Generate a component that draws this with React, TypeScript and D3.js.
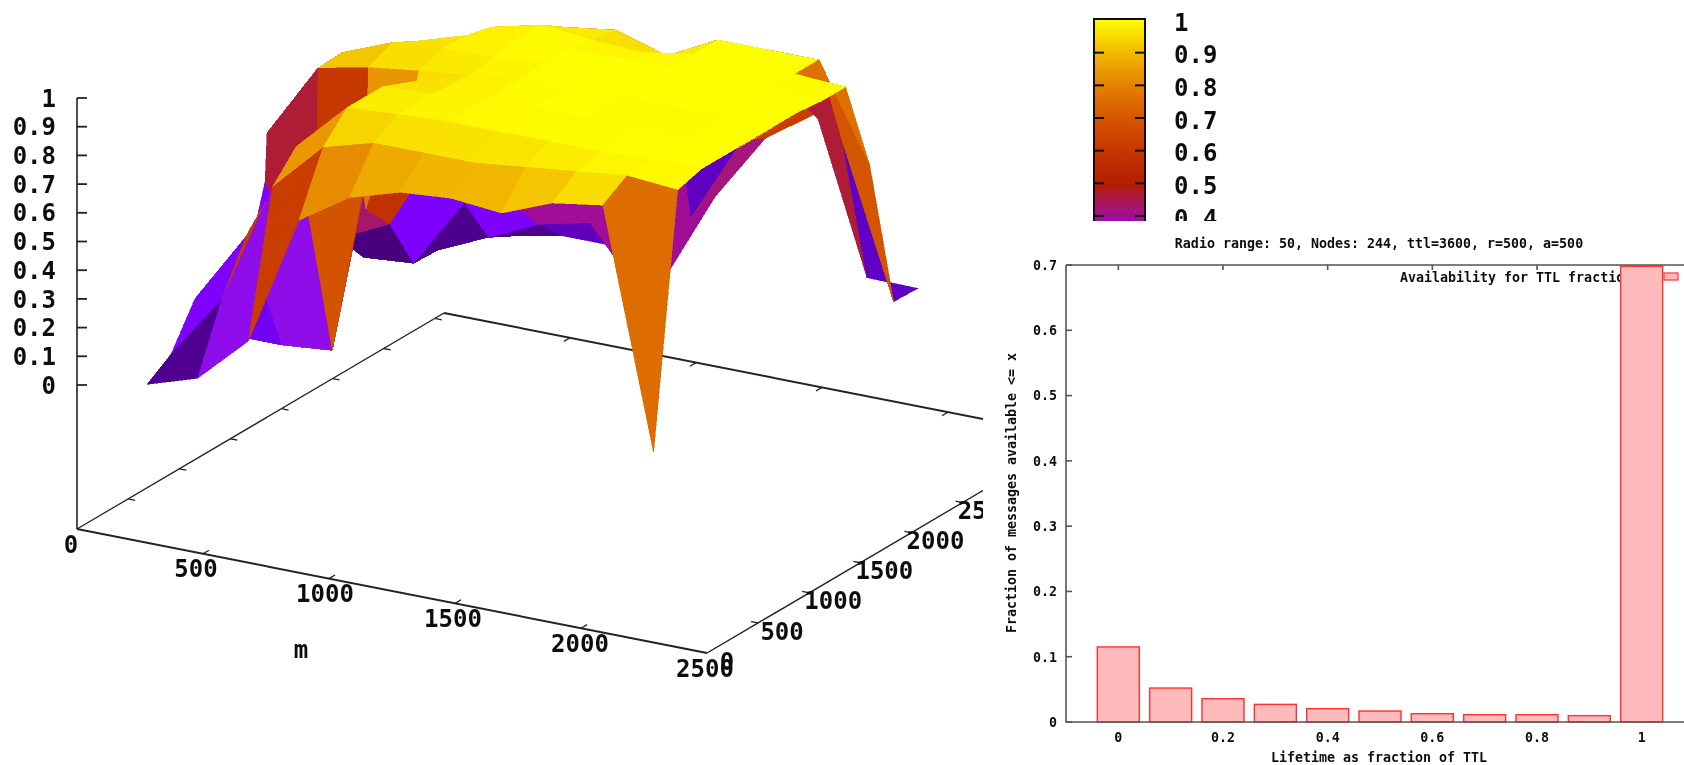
import React from 'react';
import * as d3 from 'd3';

// ---------- 3D surface data ----------
const gridX = [205, 406, 607, 808, 1009, 1210, 1411, 1612, 1813, 2014, 2215];
const gridY = [180, 415, 650, 1001, 1334, 1354, 1589, 1824, 2058, 2293, 2528, 2763];
// z[j][i]
const zRow0 = [0, 0.056, 0.22, 0.676, 0.79, 0.843, 0.857, 0.84, 0.91, 0.937, 0.11];
const zRow1 = [0.056, 0.28, 0.707, 0.88, 0.93, 0.93, 0.93, 0.95, 0.97, 0.99, 0.975];
const zRow2 = [0.2, 0.45, 0.8, 0.97, 0.98, 0.99, 0.99, 0.99, 0.99, 1, 1];
const zRow3 = [0, 0, 0.016, 0.97, 0.98, 0.99, 1, 1, 1, 1, 1];
const zRow4 = [0.463, 0.04, 0.54, 0.92, 0.97, 0.99, 1, 1, 0.98, 1, 1];
const zRow5 = [0.63, 0.89, 0.927, 0.95, 0.97, 0.99, 1, 1, 1, 1, 1];
const zRow6 = [0.1, 0.895, 0.965, 0.98, 0.98, 1, 1, 1, 1, 1, 1];
const zRow7 = [0.25, 0.3, 0.92, 0.975, 1, 1, 1, 1, 1, 1, 0.99];
const zRow8 = [0.115, 0.2, 0.5, 0.955, 0.997, 0.98, 0.97, 1, 1, 1, 0.99];
const zRow9 = [0, 0.014, 0.26, 0.28, 0.94, 0.965, 0.91, 1, 1, 1, 0.67];
const zRow10 = [0, 0.01, 0.09, 0.17, 0.21, 0, 0.3, 0.6, 0.8, 0.66, 0.143];
const zRow11 = [0, 0, 0.045, 0.08, 0.08, 0, 0.32, 0.56, 0.68, 0.143, 0.14];
const zGrid = [zRow0, zRow1, zRow2, zRow3, zRow4, zRow5, zRow6, zRow7, zRow8, zRow9, zRow10, zRow11];

// cells whose shade differs from the mean of their corners: [i, j, shade]
const cellShades: [number, number, number][] = [
  [1, 1, 0.61], [0, 2, 0.2], [0, 3, 0.25], [0, 4, 0.466],
  [0, 7, 0.43], [1, 7, 0.58], [2, 9, 0.25], [4, 9, 0.4],
  [6, 9, 0.14], [6, 10, 0.42], [5, 10, 0.4], [5, 9, 0.4], [7, 10, 0.62],
  [8, 9, 0.466], [9, 8, 0.76], [9, 9, 0.69], [8, 10, 0.466], [9, 10, 0.14],
];

const xTicks3d = [0, 500, 1000, 1500, 2000, 2500];
const xLabelNudge = [-6, -7, -4, -2, -1, -2];
const yTicks3d = [0, 500, 1000, 1500, 2000, 2500, 3000, 3500];
const yTickLabels3d = [0, 500, 1000, 1500, 2000, 2500];
const zTicks = [0, 0.1, 0.2, 0.3, 0.4, 0.5, 0.6, 0.7, 0.8, 0.9, 1];
const cbTicks = [1, 0.9, 0.8, 0.7, 0.6, 0.5, 0.4];

// ---------- bar chart data ----------
const barX = [0, 0.1, 0.2, 0.3, 0.4, 0.5, 0.6, 0.7, 0.8, 0.9, 1];
const barY = [0.115, 0.052, 0.0357, 0.027, 0.0204, 0.0168, 0.0127, 0.0112, 0.0112, 0.0097, 0.698];
const barXTicks = [0, 0.2, 0.4, 0.6, 0.8, 1];
const barYTicks = [0, 0.1, 0.2, 0.3, 0.4, 0.5, 0.6, 0.7];

// ---------- scales ----------
const xToX = d3.scaleLinear().domain([0, 2500]).range([0, 630]);
const xToY = d3.scaleLinear().domain([0, 2500]).range([0, 124]);
const yToX = d3.scaleLinear().domain([0, 3590]).range([0, 367]);
const yToY = d3.scaleLinear().domain([0, 3590]).range([0, -216]);
const zToY = d3.scaleLinear().domain([0, 1]).range([385, 98]);
const originX = 77, originY = 529;
const Y_MAX = 3590;
const project = (x: number, y: number, z: number): [number, number] => [
  originX + xToX(x) + yToX(y),
  zToY(z) + xToY(x) + yToY(y),
];
const floor = (x: number, y: number): [number, number] => [
  originX + xToX(x) + yToX(y),
  originY + xToY(x) + yToY(y),
];
const pal = (g0: number) => {
  const g = Math.max(0, Math.min(1, g0));
  const r = Math.sqrt(g), gr = g * g * g, b = Math.max(0, Math.sin(2 * Math.PI * g));
  return d3.rgb(255 * r, 255 * gr, 255 * b).formatHex();
};

const bx = d3.scaleLinear().domain([-0.1, 1.1]).range([1066, 1694]);
const by = d3.scaleLinear().domain([0, 0.7]).range([722, 265]);
const cb = d3.scaleLinear().domain([0.4, 1]).range([216, 20]);

const MONO = '"DejaVu Sans Mono", monospace';

type Cell = { pts: [number, number][]; v: number; depth: number };
const cells: Cell[] = [];
for (let j = 0; j < gridY.length - 1; j++) {
  for (let i = 0; i < gridX.length - 1; i++) {
    const zs = [zGrid[j][i], zGrid[j][i + 1], zGrid[j + 1][i + 1], zGrid[j + 1][i]];
    const pts = [
      project(gridX[i], gridY[j], zs[0]),
      project(gridX[i + 1], gridY[j], zs[1]),
      project(gridX[i + 1], gridY[j + 1], zs[2]),
      project(gridX[i], gridY[j + 1], zs[3]),
    ];
    const shade = cellShades.find(s => s[0] === i && s[1] === j);
    cells.push({ pts, v: shade ? shade[2] : (d3.mean(zs) as number), depth: 10 * i - 14.1 * j });
  }
}
cells.sort((a, b) => a.depth - b.depth);

export default function App() {
  const line = d3.line();
  return (
    <svg width={1684} height={765} style={{ position: 'absolute', left: 0, top: 0, background: '#fff' }}>
      <defs>
        <clipPath id="leftClip"><rect x={0} y={0} width={983} height={765} /></clipPath>
        <clipPath id="cbClip"><rect x={1000} y={0} width={300} height={221} /></clipPath>
        <filter id="soft" x="0" y="0" width="100%" height="100%"><feGaussianBlur stdDeviation="0.45" /></filter>
      </defs>
      <g filter="url(#soft)">
        <g clipPath="url(#leftClip)">
          <g stroke="#222" strokeWidth={1.6} fill="none">
            <path d={line([floor(0, 0), floor(2500, 0)]) as string} strokeWidth={2} />
            <path d={line([floor(2500, 0), floor(2500, Y_MAX)]) as string} strokeWidth={1.4} />
            <path d={line([floor(0, 0), floor(0, Y_MAX)]) as string} strokeWidth={1.4} />
            <path d={line([floor(0, Y_MAX), floor(2500, Y_MAX)]) as string} strokeWidth={2} />
            <path d={`M${originX},${originY}V${zToY(1)}`} />
            {xTicks3d.slice(1, -1).map(t => {
              const p = floor(t, 0), s = floor(t, Y_MAX);
              return (
                <g key={t} strokeWidth={1.3}>
                  <path d={`M${p[0]},${p[1]}l6,-3.6`} />
                  <path d={`M${s[0]},${s[1]}l-6,3.6`} />
                </g>
              );
            })}
            {yTicks3d.slice(1).map(t => {
              const q = floor(0, t), r = floor(2500, t);
              return (
                <g key={t} strokeWidth={1.3}>
                  <path d={`M${q[0]},${q[1]}l7,1.4`} />
                  <path d={`M${r[0]},${r[1]}l-7,-1.4`} />
                </g>
              );
            })}
            {zTicks.map(t => <path key={t} d={`M${originX},${zToY(t)}h10`} strokeWidth={1.8} />)}
          </g>
          <g shapeRendering="crispEdges">
            {cells.map((c, k) => (
              <polygon key={k} points={c.pts.map(p => p.join(',')).join(' ')} fill={pal(c.v)} stroke={pal(c.v)} strokeWidth={0.6} />
            ))}
          </g>
          <g fontFamily={MONO} fontWeight="bold" fontSize={24} fill="#111">
            {zTicks.map(t => (
              <text key={t} x={56} y={zToY(t)} dy="0.36em" textAnchor="end">{t}</text>
            ))}
            {xTicks3d.map((t, k) => {
              const p = floor(t, 0);
              return <text key={t} x={p[0] + xLabelNudge[k]} y={p[1] + 15} dy="0.36em" textAnchor="middle">{t}</text>;
            })}
            {yTickLabels3d.map(t => {
              const p = floor(2500, t);
              return <text key={t} x={p[0] + (t === 0 ? 20 : 24)} y={p[1] + 8} dy="0.36em" textAnchor="middle">{t}</text>;
            })}
            <text x={301} y={649} dy="0.36em" textAnchor="middle">m</text>
          </g>
        </g>
        <g clipPath="url(#cbClip)">
          <g shapeRendering="crispEdges">
            {d3.range(19, 240).map(y => (
              <rect key={y} x={1094} y={y} width={51} height={1} fill={pal(cb.invert(y + 0.5))} />
            ))}
          </g>
          <rect x={1094} y={19} width={51} height={230} fill="none" stroke="#111" strokeWidth={2} />
          {cbTicks.slice(1).map(t => (
            <g key={t} stroke="#111" strokeWidth={2}>
              <path d={`M1094,${cb(t)}h10`} />
              <path d={`M1145,${cb(t)}h-10`} />
            </g>
          ))}
          <g fontFamily={MONO} fontWeight="bold" fontSize={24} fill="#111">
            {cbTicks.map(t => <text key={t} x={1174} y={cb(t) + 2} dy="0.36em">{t}</text>)}
          </g>
        </g>
        <g fontFamily={MONO} fontWeight="bold" fontSize={13.3} fill="#111">
          <text x={1379} y={243} dy="0.36em" textAnchor="middle">Radio range: 50, Nodes: 244, ttl=3600, r=500, a=500</text>
          <text x={1400} y={277} dy="0.36em">Availability for TTL fraction</text>
          <rect x={1664} y={273} width={14} height={7} fill="#FFBBBB" stroke="#FF4040" strokeWidth={1.3} />
          {barYTicks.map(t => (
            <text key={t} x={1057} y={by(t)} dy="0.36em" textAnchor="end">{t}</text>
          ))}
          {barXTicks.map(t => (
            <text key={t} x={bx(t)} y={737} dy="0.36em" textAnchor="middle">{t}</text>
          ))}
          <text x={1379} y={757} dy="0.36em" textAnchor="middle">Lifetime as fraction of TTL</text>
          <text transform="translate(1011,493) rotate(-90)" textAnchor="middle" dy="0.36em">Fraction of messages available &lt;= x</text>
        </g>
        {barX.map((x, k) => (
          <rect key={x} x={bx(x) - 21} y={by(barY[k])} width={42} height={by(0) - by(barY[k])} fill="#FFBBBB" stroke="#FF3030" strokeWidth={1.4} />
        ))}
        <g stroke="#555" strokeWidth={1.6} fill="none">
          <path d={`M1066,265V${by(0)}H1684M1066,265H1684`} />
          {barYTicks.map(t => <path key={t} d={`M1066,${by(t)}h6`} />)}
          {barXTicks.slice(0, -1).map(t => <path key={t} d={`M${bx(t)},265v5`} />)}
        </g>
      </g>
    </svg>
  );
}
